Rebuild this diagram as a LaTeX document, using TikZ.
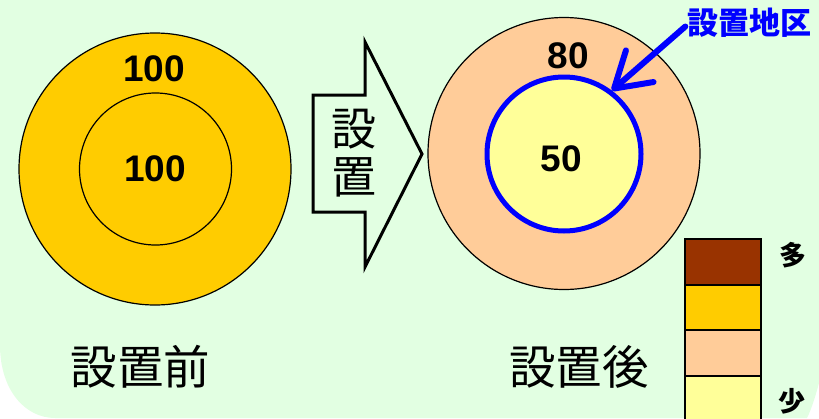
\documentclass[tikz,border=0pt]{standalone}
\usepackage{fontspec}
\setmainfont{Liberation Sans}
\newfontfamily\cjk{Noto Sans CJK JP}
\usetikzlibrary{arrows.meta}
\definecolor{bggreen}{RGB}{226,255,226}
\definecolor{gold}{RGB}{255,204,0}
\definecolor{peach}{RGB}{255,204,153}
\definecolor{paleyellow}{RGB}{255,255,153}
\definecolor{brownish}{RGB}{153,51,0}
\tikzset{
  ring/.style={circle, draw=black, line width=1.2pt, inner sep=0pt},
  numlabel/.style={inner sep=0pt, font=\fontsize{37}{40}\selectfont\bfseries},
  biglabel/.style={inner sep=0pt, font=\cjk\fontsize{46.5}{50}\selectfont},
  legbox/.style={rectangle, draw=black, line width=2pt, minimum width=76pt, minimum height=46pt, inner sep=0pt},
  legtext/.style={inner sep=0pt, font=\cjk\bfseries\fontsize{27}{30}\selectfont},
}
\begin{document}
\begin{tikzpicture}[x=1pt,y=-1pt]
\useasboundingbox (0,0) rectangle (819,418);
% background
\fill[bggreen] (0,0) -- (819,0) -- (819,383) .. controls (815,398) and (811,410) .. (807,418)
  -- (55,418) .. controls (25,418) and (0,390) .. (0,345) -- cycle;
% left circles
\node[ring, fill=gold, minimum size=272pt] (Lout) at (155,169) {};
\node[ring, fill=gold, minimum size=152pt] (Lin) at (155.5,169) {};
\node[numlabel] (L100a) at (154,69) {100};
\node[numlabel] (L100b) at (155,168.5) {100};
% arrow
\draw[line width=3pt, fill=bggreen, line join=miter]
  (313,95) -- (365,95) -- (365,42) -- (422,154) -- (365,267) -- (365,212) -- (313,212) -- cycle;
\node[inner sep=0pt, font=\cjk\fontsize{45}{50}\selectfont] (A1) at (354,129) {設};
\node[inner sep=0pt, font=\cjk\fontsize{45}{50}\selectfont] (A2) at (354,177.5) {置};
% right circles
\node[ring, fill=peach, minimum size=272pt] (Rout) at (564,153.5) {};
\node[circle, draw=blue, line width=5pt, fill=paleyellow, minimum size=154pt, inner sep=0pt] (Rin) at (564,154) {};
\node[numlabel] (R80) at (568,55.5) {80};
\node[numlabel] (R50) at (561,158.5) {50};
% label with arrow
\node[inner sep=0pt, text=blue, font=\cjk\bfseries\fontsize{31}{34}\selectfont] (area) at (749.5,22.5) {設置地区};
\draw[blue, line width=6pt, line cap=round, -{Straight Barb[length=34pt,width=42pt,round]}]
  ([xshift=-2pt,yshift=-4pt]area.west) -- (Rin.53);
% bottom labels
\node[biglabel] (before) at (140.5,367) {設置前};
\node[biglabel] (after) at (579,367) {設置後};
% legend
\node[legbox, fill=brownish] (k1) at (723,262) {};
\node[legbox, fill=gold] (k2) at (723,307.5) {};
\node[legbox, fill=peach] (k3) at (723,353) {};
\node[legbox, fill=paleyellow, minimum height=60pt] (k4) at (723,406) {};
\node[legtext] (many) at (792.5,255) {多};
\node[legtext] (few) at (792,401) {少};
\end{tikzpicture}
\end{document}
